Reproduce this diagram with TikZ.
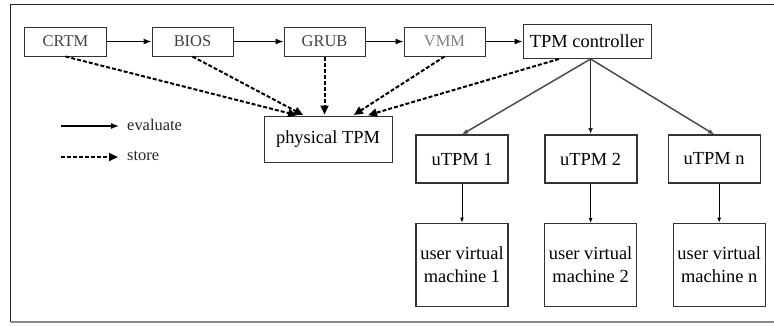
\documentclass[tikz,border=0pt]{standalone}
\usepackage{fontspec}
\setmainfont{Liberation Serif}
\usepackage{tikz}
\usetikzlibrary{arrows.meta,positioning}

\begin{document}
\begin{tikzpicture}[
    x=1bp, y=-1bp,
    node distance=40bp,
    chain/.style={draw=black!80, line width=1bp, minimum width=81bp, minimum height=29bp, inner sep=0pt,
      font=\fontsize{16.5}{18}\selectfont, text=black!75},
    box/.style={draw=black!80, line width=1.2bp, minimum width=92bp, minimum height=48bp, inner sep=0pt,
      align=center, font=\fontsize{18.5}{23}\selectfont},
    vmbox/.style={box, minimum height=83bp},
    legend/.style={inner xsep=8bp, inner ysep=0pt, font=\fontsize{16.5}{18}\selectfont, text=black!85},
    arrow/.style={-{Latex[length=8bp,width=6bp]}, line width=1.1bp},
    store/.style={-{Triangle[length=9bp,width=8bp]}, line width=2bp, dash pattern=on 4bp off 2bp, shorten >=1bp},
    fork/.style={-{Latex[length=6bp,width=5bp]}, line width=1.5bp, draw=black!70},
    down/.style={-{Latex[length=5bp,width=4bp]}, line width=0.9bp}
]
\useasboundingbox (0,0) rectangle (774,325);
% frame
\draw[line width=1.5bp, black!85] (774,4.5) -- (10.5,4.5) -- (10.5,322);
\draw[line width=1.5bp, black!45] (10.5,322) -- (774,322);

% boot chain
\node[chain] (crtm) at (65.5,41.5) {CRTM};
\node[chain, right=45bp of crtm] (bios) {BIOS};
\node[chain, right=50bp of bios] (grub) {GRUB};
\node[chain, right=38bp of grub, text=black!50] (vmm) {VMM};
\node[chain, right=37bp of vmm, minimum width=128bp, minimum height=34bp,
      font=\fontsize{18.5}{20}\selectfont, text=black] (tpmc) {TPM controller};

\node[box, minimum width=128bp, minimum height=46bp, line width=1bp] (ptpm) at (328,139) {physical TPM};

% virtual TPMs
\node[box] (utpm1) at (462,159) {uTPM 1};
\node[box, right=35bp of utpm1, line width=2bp] (utpm2) {uTPM 2};
\node[box, right=30bp of utpm2] (utpmn) {uTPM n};

\node[vmbox, below=39bp of utpm1] (uvm1) {user virtual\\machine 1};
\node[vmbox, below=39bp of utpm2] (uvm2) {user virtual\\machine 2};
\node[vmbox, below=39bp of utpmn, xshift=5bp] (uvmn) {user virtual\\machine n};

% legend
\coordinate (ev) at (61,126);
\coordinate (st) at (61,157);
\node[legend, anchor=west] (evtxt) at (119,125) {evaluate};
\node[legend, anchor=west] (sttxt) at (119,156) {store};
\draw[arrow] (ev) -- (ev -| evtxt.west);
\draw[store] (st) -- (st -| sttxt.west);

% evaluate
\draw[arrow] (crtm) -- (bios);
\draw[arrow] (bios) -- (grub);
\draw[arrow] (grub) -- (vmm);
\draw[arrow] (vmm) -- (tpmc);

% store
\draw[store] (crtm.south) -- ([xshift=-30bp]ptpm.north);
\draw[store] (bios.south) -- ([xshift=-24bp]ptpm.north);
\draw[store] (grub.south) -- (grub.south |- ptpm.north);
\draw[store] (vmm.south) -- ([xshift=25bp]ptpm.north);
\draw[store] ([xshift=-28bp]tpmc.south) -- ([xshift=39bp]ptpm.north);

% controller to uTPMs
\draw[fork] (tpmc.south -| utpm2.north) -- (utpm1.north);
\draw[fork, draw=black!85] (tpmc.south -| utpm2.north) -- (utpm2.north);
\draw[fork] (tpmc.south -| utpm2.north) -- (utpmn.north);

\draw[down] (utpm1) -- (uvm1);
\draw[down] (utpm2) -- (uvm2);
\draw[down] (uvmn.north |- utpmn.south) -- (uvmn.north);
\end{tikzpicture}
\end{document}
